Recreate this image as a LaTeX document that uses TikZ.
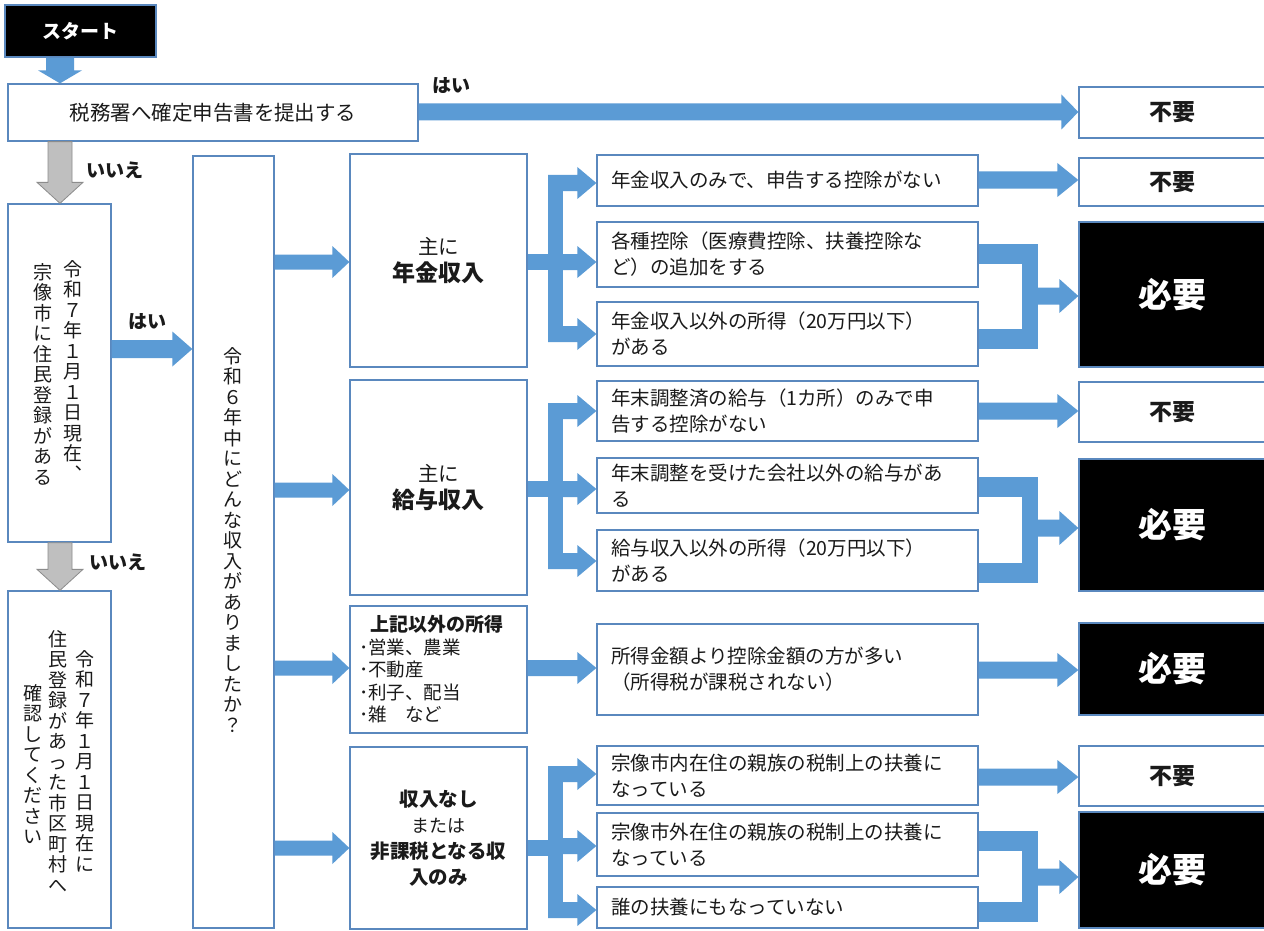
\documentclass[tikz,border=0pt]{standalone}
\usepackage{fontspec}
\setmainfont{Noto Sans CJK JP}
\usetikzlibrary{calc}
\definecolor{ab}{HTML}{5B9BD5}
\definecolor{bd}{HTML}{5A88BE}
\definecolor{ga}{HTML}{BFBFBF}
\definecolor{gb}{HTML}{8C8C8C}
\definecolor{tx}{HTML}{1A1A1A}
\newcommand\ftxt{\fontsize{19.5}{26}\selectfont}
\newcommand\ftax{\fontsize{20.5}{26}\selectfont}
\newcommand\fvert{\fontsize{19}{20.5}\selectfont}
\newcommand\flab{\fontsize{19}{22}\selectfont\bfseries}
\newcommand\fcat{\fontsize{23}{28}\selectfont\bfseries}
\newcommand\fres{\fontsize{23}{26}\selectfont\bfseries}
\newcommand\fbig{\fontsize{34}{40}\selectfont\bfseries}
\newcommand\fother{\fontsize{18.5}{22.5}\selectfont}
\newcommand\fsmall{\fontsize{18}{24}\selectfont}
% box from corners
\newcommand\bx[7]{\node[#6, minimum width={#4-#2}, minimum height={#5-#3}] (#1) at ({(#2+#4)/2},{(#3+#5)/2}) {#7};}
% horizontal block arrow: from, to, y, shaft half, head half, head length
\newcommand\harrow[6]{%
 \coordinate (hs) at (#1 |- 0,#3);
 \coordinate (he) at (#2 |- 0,#3);
 \fill[ab] ($(hs)+(0,-#4)$) -- ($(he)+(-#6,-#4)$) -- ($(he)+(-#6,-#5)$) -- (he)
   -- ($(he)+(-#6,#5)$) -- ($(he)+(-#6,#4)$) -- ($(hs)+(0,#4)$) -- cycle;}
% vertical block arrow: from, to, x, shaft half, head half, head length, style
\newcommand\varrow[7]{%
 \coordinate (vs) at (#3,0 |- #1);
 \coordinate (ve) at (#3,0 |- #2);
 \filldraw[#7] ($(vs)+(-#4,0)$) -- ($(ve)+(-#4,-#6)$) -- ($(ve)+(-#5,-#6)$) -- (ve)
   -- ($(ve)+(#5,-#6)$) -- ($(ve)+(#4,-#6)$) -- ($(vs)+(#4,0)$) -- cycle;}
% split: category, y in, three targets with y
\newcommand\branch[8]{%
 \coordinate (bi) at (#1.east |- 0,#2);
 \fill[ab] ($(bi)+(0,-8)$) rectangle (563,#2+8);
 \fill[ab] (548,#4-8) rectangle (563,#8+8);
 \coordinate (bv) at (548,0);
 \harrow{bv}{#3.west}{#4}{8}{16}{19}
 \harrow{bv}{#5.west}{#6}{8}{16}{19}
 \harrow{bv}{#7.west}{#8}{8}{16}{19}}
% merge: top source, bottom source, target, y1, y2, ym
\newcommand\merge[6]{%
 \coordinate (m1) at (#1.east |- 0,#4);
 \coordinate (m2) at (#2.east |- 0,#5);
 \fill[ab] ($(m1)+(0,-10)$) rectangle (1038,#4+10);
 \fill[ab] ($(m2)+(0,-10)$) rectangle (1038,#5+10);
 \fill[ab] (1022,#4-10) rectangle (1038,#5+10);
 \coordinate (mv) at (1030,0);
 \harrow{mv}{#3.west}{#6}{8.5}{17}{19}}
\begin{document}
\begin{tikzpicture}[x=1pt,y=-1pt,
  every node/.style={text=tx},
  box/.style={draw=bd, line width=1.3pt, fill=white, inner sep=0pt},
  blk/.style={box, fill=black, text=white},
  subbox/.style={box, text width=353pt, inner xsep=14pt, inner ysep=0pt, align=left, font=\ftxt},
  fuyo/.style={box, font=\fres},
  hitsuyo/.style={blk, font=\fbig},
  vt/.style={align=center, inner sep=0pt, font=\fvert},
  lab/.style={inner sep=0pt, font=\flab},
  grayarrow/.style={fill=ga, draw=gb, line width=0.8pt},
  bluearrow/.style={fill=ab, draw=none}]
\useasboundingbox (0,0) rectangle (1264,931);
\fill[white] (0,0) rectangle (1264,931);

% left column
\bx{start}{5}{5}{156}{57}{blk, font=\flab}{スタート}
\bx{tax}{8}{84}{418}{141}{box, font=\ftax}{税務署へ確定申告書を提出する}
\bx{resA}{8}{204}{111}{542}{box}{}
\bx{resB}{8}{591}{111}{928}{box}{}
\bx{col}{193}{156}{274}{928}{box}{}
\node[vt] (a1) at (73,371) {令\\和\\７\\年\\１\\月\\１\\日\\現\\在\\︑};
\node[vt] (a2) at (43,374) {宗\\像\\市\\に\\住\\民\\登\\録\\が\\あ\\る};
\node[vt] (b1) at (85,761) {令\\和\\７\\年\\１\\月\\１\\日\\現\\在\\に};
\node[vt] (b2) at (58,761) {住\\民\\登\\録\\が\\あ\\っ\\た\\市\\区\\町\\村\\へ};
\node[vt] (b3) at (33,764) {確\\認\\し\\て\\く\\だ\\さ\\い};
\node[vt] (c1) at (233,540) {令\\和\\６\\年\\中\\に\\ど\\ん\\な\\収\\入\\が\\あ\\り\\ま\\し\\た\\か\\？};

% categories
\bx{nenkin}{350}{154}{527}{367}{box, align=center, font=\ftax}{主に\\[1pt]{\fcat 年金収入}}
\bx{kyuyo}{350}{380}{527}{595}{box, align=center, font=\ftax}{主に\\[1pt]{\fcat 給与収入}}
\bx{other}{350}{606}{527}{733}{box, align=left, text width=159pt, inner xsep=9pt, font=\fother}{\hspace*{11pt}{\bfseries\fontsize{19}{22.5}\selectfont 上記以外の所得}\\･営業、農業\\･不動産\\･利子、配当\\･雑　など}
\bx{none}{350}{747}{527}{929}{box, align=center, font=\ftxt}{{\bfseries 収入なし}\\{\fsmall または}\\{\bfseries 非課税となる収}\\{\bfseries 入のみ}}

% sub boxes
\bx{s1}{597}{155}{978}{206}{subbox}{年金収入のみで、申告する控除がない}
\bx{s2}{597}{222}{978}{287}{subbox}{各種控除（医療費控除、扶養控除な\\ど）の追加をする}
\bx{s3}{597}{302}{978}{366}{subbox}{年金収入以外の所得（20万円以下）\\がある}
\bx{s4}{597}{381}{978}{441}{subbox}{年末調整済の給与（1カ所）のみで申\\告する控除がない}
\bx{s5}{597}{458}{978}{513}{subbox}{年末調整を受けた会社以外の給与があ\\る}
\bx{s6}{597}{530}{978}{591}{subbox}{給与収入以外の所得（20万円以下）\\がある}
\bx{s7}{597}{624}{978}{715}{subbox}{所得金額より控除金額の方が多い\\（所得税が課税されない）}
\bx{s8}{597}{746}{978}{805}{subbox}{宗像市内在住の親族の税制上の扶養に\\なっている}
\bx{s9}{597}{813}{978}{876}{subbox}{宗像市外在住の親族の税制上の扶養に\\なっている}
\bx{s10}{597}{887}{978}{928}{subbox}{誰の扶養にもなっていない}

% results
\bx{r0}{1079}{87}{1266}{138}{fuyo}{不要}
\bx{r1}{1079}{158}{1266}{206}{fuyo}{不要}
\bx{r2}{1079}{222}{1266}{367}{hitsuyo}{必要}
\bx{r3}{1079}{382}{1266}{442}{fuyo}{不要}
\bx{r4}{1079}{459}{1266}{591}{hitsuyo}{必要}
\bx{r5}{1079}{623}{1266}{715}{hitsuyo}{必要}
\bx{r6}{1079}{746}{1266}{806}{fuyo}{不要}
\bx{r7}{1079}{812}{1266}{928}{hitsuyo}{必要}

% arrows, left part
\varrow{start.south}{tax.north}{60}{14}{22}{13}{bluearrow}
\varrow{tax.south}{resA.north}{60}{12}{23}{21}{grayarrow}
\varrow{resA.south}{resB.north}{60}{12}{23}{21}{grayarrow}
\harrow{tax.east}{r0.west}{112}{8.5}{17.5}{17}
\harrow{resA.east}{col.west}{349}{9}{17.5}{20}
\harrow{col.east}{nenkin.west}{262}{7.5}{16}{17}
\harrow{col.east}{kyuyo.west}{490}{7.5}{16}{17}
\harrow{col.east}{other.west}{668}{7.5}{16}{17}
\harrow{col.east}{none.west}{848}{7.5}{16}{17}

% labels
\node[lab] (l1) at (451,86) {はい};
\node[lab] (l2) at (115,170) {いいえ};
\node[lab] (l3) at (147,322) {はい};
\node[lab] (l4) at (118,562) {いいえ};

% splits
\branch{nenkin}{262}{s1}{183}{s2}{262}{s3}{334}
\branch{kyuyo}{489}{s4}{411}{s5}{489}{s6}{561}
\harrow{other.east}{s7.west}{668}{8}{16}{19}
\branch{none}{848}{s8}{774}{s9}{846}{s10}{910}

% to results
\harrow{s1.east}{r1.west}{180}{8.5}{17}{21}
\merge{s2}{s3}{r2}{254}{339}{296}
\harrow{s4.east}{r3.west}{411}{8.5}{17}{21}
\merge{s5}{s6}{r4}{487}{573}{528}
\harrow{s7.east}{r5.west}{670}{8.5}{17}{21}
\harrow{s8.east}{r6.west}{777}{8.5}{17}{21}
\merge{s9}{s10}{r7}{841}{912}{877}
\end{tikzpicture}
\end{document}
